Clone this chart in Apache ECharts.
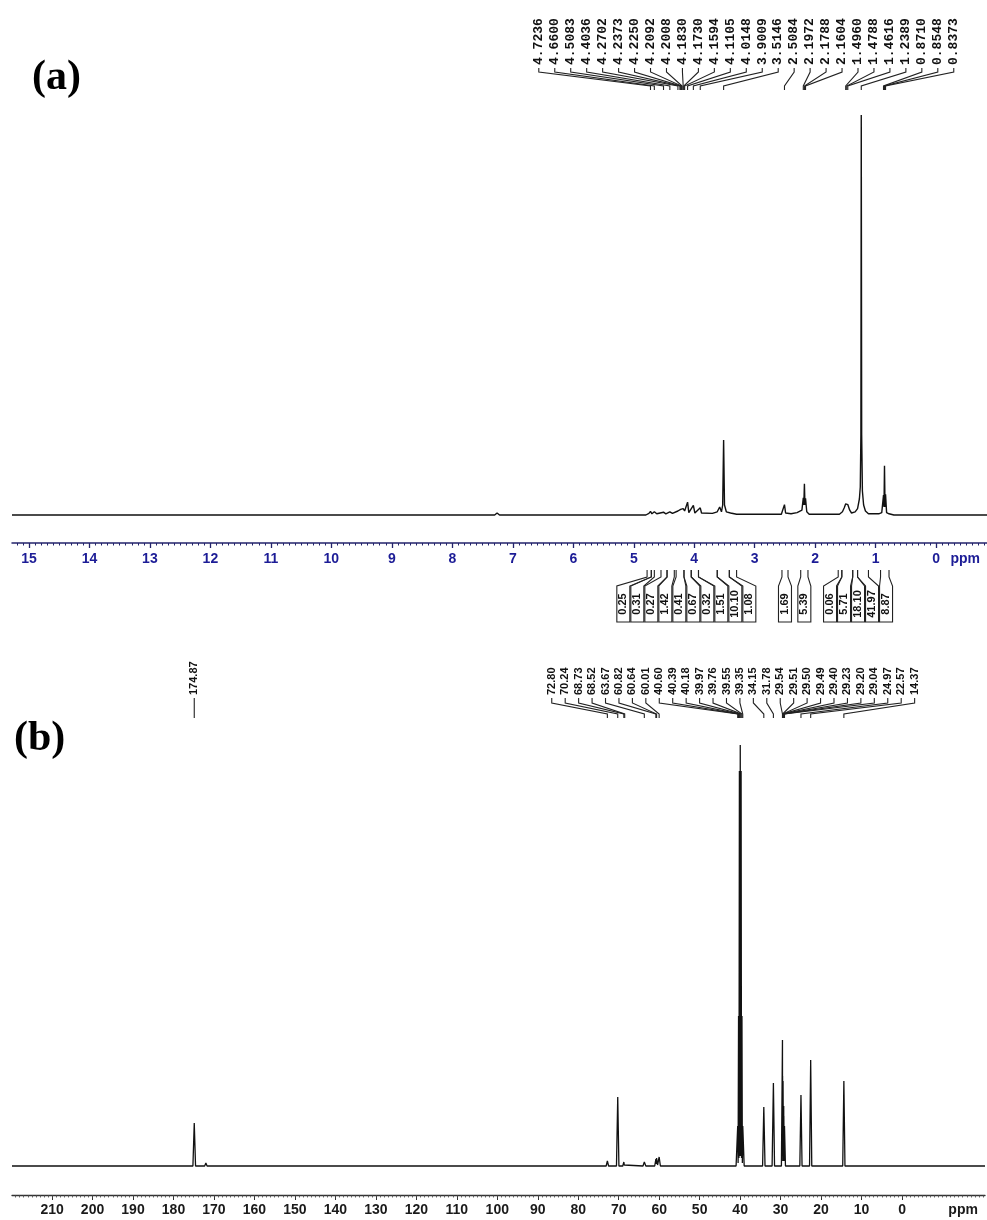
<!DOCTYPE html>
<html><head><meta charset="utf-8">
<script src="https://cdn.jsdelivr.net/npm/echarts@6/dist/echarts.min.js"></script>
<style>html,body{margin:0;padding:0;background:#fff}#c{width:987px;height:1220px}</style>
</head><body><div id="c"></div>
<script>
// ---------- Panel (a): 1H NMR ----------
const hTickLabels = [15,14,13,12,11,10,9,8,7,6,5,4,3,2,1,0];
const hSpectrum = [
 [15.28,0],[7.30,0],[7.26,0.5],[7.22,0],[4.80,0],[4.75,0.4],[4.7236,0.9],[4.70,0.3],[4.66,0.8],[4.62,0.3],
 [4.5083,0.7],[4.47,0.3],[4.4036,0.8],[4.36,0.4],[4.2702,1.0],[4.2373,1.2],[4.2250,1.4],[4.2092,1.5],[4.2008,1.3],
 [4.1830,1.6],[4.1730,1.2],[4.1594,1.0],[4.13,0.5],[4.1105,3.2],[4.09,0.6],[4.0148,2.4],[3.99,0.5],[3.9009,1.8],
 [3.88,0.5],[3.70,0.4],[3.62,0.8],[3.58,2.0],[3.55,0.8],[3.53,2.5],[3.5146,18.75],[3.50,2.5],[3.47,0.8],[3.40,0.5],
 [3.30,0.2],[2.56,0.2],[2.53,0.5],[2.5084,2.6],[2.49,0.5],[2.40,0.3],[2.30,0.6],[2.22,1.2],[2.1972,4.3],[2.1885,2.5],
 [2.1788,7.8],[2.170,2.5],[2.1604,4.2],[2.14,0.8],[2.10,0.2],[1.60,0.2],[1.55,0.8],[1.52,1.8],[1.4960,2.8],
 [1.4788,3.1],[1.4616,2.6],[1.43,1.2],[1.40,0.5],[1.34,0.8],[1.30,1.6],[1.27,4],[1.255,7],[1.245,20],[1.2389,100],
 [1.232,20],[1.22,6],[1.20,2.5],[1.17,1],[1.12,0.3],[0.95,0.3],[0.90,0.6],[0.8710,5],[0.863,2],[0.8548,12.3],
 [0.846,2],[0.8373,5.2],[0.82,0.6],[0.78,0.3],[0.70,0],[-0.84,0]
];
const hPeakLabels = ['4.7236','4.6600','4.5083','4.4036','4.2702','4.2373','4.2250','4.2092','4.2008','4.1830',
 '4.1730','4.1594','4.1105','4.0148','3.9009','3.5146','2.5084','2.1972','2.1788','2.1604','1.4960','1.4788',
 '1.4616','1.2389','0.8710','0.8548','0.8373'];
const hIntegralValues = ['0.25','0.31','0.27','1.42','0.41','0.67','0.32','1.51','10.10','1.08','1.69','5.39',
 '0.06','5.71','18.10','41.97','8.87'];
const hIntegralRanges = [[4.78,4.71],[4.71,4.66],[4.55,4.45],[4.45,4.33],[4.30,4.17],[4.17,4.05],[4.05,3.93],
 [3.93,3.62],[3.62,3.42],[3.42,3.30],[2.55,2.45],[2.24,2.12],[1.62,1.56],[1.56,1.38],[1.38,1.30],[1.30,1.12],[0.92,0.78]];

// ---------- Panel (b): 13C NMR ----------
const cTickLabels = [210,200,190,180,170,160,150,140,130,120,110,100,90,80,70,60,50,40,30,20,10,0];
const cSpectrum = [
 [219.9,0],[175.2,0],[174.87,43],[174.55,0],[172.3,0],[172.0,3],[171.7,0],[73.1,0],[72.80,5],[72.5,0],
 [70.55,0],[70.24,69],[69.95,0],[69.0,0],[68.73,4],[68.62,1],[68.52,3],[68.3,0],[64.0,0],[63.67,4],[63.3,0],
 [61.1,0],[60.82,7],[60.73,2],[60.64,8],[60.4,1],[60.01,9],[59.7,0],[41.0,0],[40.60,40],[40.5,3],[40.39,150],
 [40.29,8],[40.18,395],[40.08,10],[39.97,421],[39.87,10],[39.76,395],[39.66,8],[39.55,150],[39.45,3],[39.35,40],
 [39.0,0],[34.45,0],[34.15,59],[33.85,0],[32.1,0],[31.78,83],[31.5,0],[29.8,0],[29.54,126],[29.52,10],[29.51,90],
 [29.505,10],[29.50,80],[29.495,10],[29.49,70],[29.45,5],[29.40,85],[29.3,5],[29.23,60],[29.215,5],[29.20,50],
 [29.12,5],[29.04,40],[28.8,0],[25.25,0],[24.97,71],[24.7,0],[22.85,0],[22.57,106],[22.3,0],[14.65,0],
 [14.37,85],[14.1,0],[-20.5,0]
];
const cPeakLabels = ['174.87','72.80','70.24','68.73','68.52','63.67','60.82','60.64','60.01','40.60','40.39',
 '40.18','39.97','39.76','39.55','39.35','34.15','31.78','29.54','29.51','29.50','29.49','29.40','29.23','29.20',
 '29.04','24.97','22.57','14.37'];

// ---------- helpers ----------
function range(a, b, step) { const out = []; const n = Math.round((b - a) / step); for (let i = 0; i <= n; i++) out.push(+(a + i * step).toFixed(4)); return out; }

// spread labels (ideal pixel positions, ascending) so neighbours are at least `gap` apart
function clusterLayout(ideal, gap) {
  let cl = ideal.map(v => ({ sum: v, n: 1 }));
  const start = c => c.sum / c.n - (c.n - 1) * gap / 2;
  let changed = true;
  while (changed) {
    changed = false;
    for (let k = 0; k < cl.length - 1; k++) {
      const a = cl[k], b = cl[k + 1];
      if (start(a) + a.n * gap > start(b)) {
        cl.splice(k, 2, { sum: a.sum + b.sum, n: a.n + b.n });
        changed = true; break;
      }
    }
  }
  const out = [];
  cl.forEach(c => { const s = start(c); for (let i = 0; i < c.n; i++) out.push(s + i * gap); });
  return out;
}

function peakLabelSeries(xi, labels, o) {
  const vals = labels.map(s => parseFloat(s));
  return {
    type: 'custom', xAxisIndex: xi, yAxisIndex: xi, silent: true, z: 5, clip: false,
    data: vals.map(v => [v, 0]),
    renderItem: function (params, api) {
      const i = params.dataIndex;
      const xs = vals.map(v => api.coord([v, 0])[0]);
      const lx = clusterLayout(xs, o.gap)[i];
      const px = xs[i];
      return { type: 'group', children: [
        { type: 'polyline', shape: { points: [[lx, o.y0], [lx, o.y1], [px, o.y2], [px, o.y3]] },
          style: { stroke: '#222', lineWidth: 1.1, fill: null } },
        { type: 'text', x: lx, y: o.textY, rotation: Math.PI / 2,
          style: { text: labels[i], font: o.font, fill: '#111', align: 'left', verticalAlign: 'middle' } }
      ] };
    }
  };
}

function integralSeries(xi, ranges, values, o) {
  return {
    type: 'custom', xAxisIndex: xi, yAxisIndex: xi, silent: true, z: 5, clip: false,
    data: ranges.map((r, i) => [r[0], r[1], values[i]]),
    renderItem: function (params, api) {
      const i = params.dataIndex;
      const edges = ranges.map(r => [api.coord([r[0], 0])[0], api.coord([r[1], 0])[0]]);
      const centers = edges.map(e => (e[0] + e[1]) / 2);
      const lx = clusterLayout(centers, o.gap)[i];
      const e = edges[i], hw = o.boxW / 2;
      const st = { stroke: '#222', lineWidth: 1.1, fill: null };
      return { type: 'group', children: [
        { type: 'polyline', shape: { points: [[e[0], o.y0], [e[0], o.y1], [lx - hw, o.y2], [lx - hw, o.y3], [lx + hw, o.y3], [lx + hw, o.y2], [e[1], o.y1], [e[1], o.y0]] }, style: st },
        { type: 'text', x: lx, y: (o.y2 + o.y3) / 2, rotation: Math.PI / 2,
          style: { text: values[i], font: o.font, fill: '#111', align: 'center', verticalAlign: 'middle' } }
      ] };
    }
  };
}

// ---------- chart ----------
const chart = echarts.init(document.getElementById('c'), null, { renderer: 'canvas' });
const H_MIN = -0.84, H_MAX = 15.28, C_MIN = -20.5, C_MAX = 219.9;
const H_UNIT_POS = -0.48, C_UNIT_POS = -15.1;

const option = {
  animation: false,
  backgroundColor: '#fff',
  grid: [
    { left: 12, width: 975, top: 115, height: 428 },
    { left: 12, width: 973, top: 745, height: 450 }
  ],
  xAxis: [
    { gridIndex: 0, type: 'value', inverse: true, min: H_MIN, max: H_MAX,
      axisLine: { onZero: false, lineStyle: { color: '#23236b', width: 1.5 } },
      axisTick: { customValues: hTickLabels, length: 5, lineStyle: { color: '#23236b', width: 1.3 } },
      axisLabel: { customValues: hTickLabels.concat([H_UNIT_POS]), formatter: v => (v < 0 ? 'ppm' : String(v)),
        color: '#1c1c96', fontWeight: 'bold', fontSize: 14, fontFamily: 'Liberation Sans', margin: 9 },
      splitLine: { show: false } },
    { gridIndex: 1, type: 'value', inverse: true, min: C_MIN, max: C_MAX,
      axisLine: { onZero: false, lineStyle: { color: '#333', width: 1.3 } },
      axisTick: { customValues: cTickLabels, length: 5, lineStyle: { color: '#333', width: 1 } },
      axisLabel: { customValues: cTickLabels.concat([C_UNIT_POS]), formatter: v => (v < 0 ? 'ppm' : String(v)),
        color: '#1a1a1a', fontWeight: 'bold', fontSize: 14, fontFamily: 'Liberation Sans', margin: 8 },
      splitLine: { show: false } },
    // minor ticks
    { gridIndex: 0, type: 'value', inverse: true, min: H_MIN, max: H_MAX, position: 'bottom',
      axisLine: { show: false, onZero: false }, axisLabel: { show: false }, splitLine: { show: false },
      axisTick: { customValues: range(-0.8, 15.2, 0.1), length: 2.5, lineStyle: { color: '#23236b', width: 1 } } },
    { gridIndex: 1, type: 'value', inverse: true, min: C_MIN, max: C_MAX, position: 'bottom',
      axisLine: { show: false, onZero: false }, axisLabel: { show: false }, splitLine: { show: false },
      axisTick: { customValues: range(-20, 219, 1), length: 2.5, lineStyle: { color: '#444', width: 0.8 } } }
  ],
  yAxis: [
    { gridIndex: 0, type: 'value', min: -7, max: 100, show: false },
    { gridIndex: 1, type: 'value', min: -29, max: 421, show: false }
  ],
  graphic: [
    { type: 'text', left: 32, top: 57, style: { text: '(a)', font: 'bold 42px "Liberation Serif"', fill: '#000' } },
    { type: 'text', left: 14, top: 718, style: { text: '(b)', font: 'bold 42px "Liberation Serif"', fill: '#000' } }
  ],
  series: [
    { type: 'line', xAxisIndex: 0, yAxisIndex: 0, data: hSpectrum, showSymbol: false, symbol: 'none',
      lineStyle: { color: '#111', width: 1.4 }, silent: true, clip: true },
    { type: 'line', xAxisIndex: 1, yAxisIndex: 1, data: cSpectrum, showSymbol: false, symbol: 'none',
      lineStyle: { color: '#111', width: 1.3 }, silent: true, clip: true },
    peakLabelSeries(0, hPeakLabels, { gap: 15.96, y0: 68, y1: 72, y2: 86, y3: 90, textY: 65, font: 'bold 13px "Liberation Mono"' }),
    peakLabelSeries(1, cPeakLabels, { gap: 13.44, y0: 698, y1: 703, y2: 714, y3: 718, textY: 695, font: 'bold 11px "Liberation Sans"' }),
    integralSeries(0, hIntegralRanges, hIntegralValues, { gap: 14, boxW: 13, y0: 570, y1: 577, y2: 586, y3: 622, font: 'bold 11px "Liberation Sans"' })
  ]
};
chart.setOption(option);
</script>
</body></html>
